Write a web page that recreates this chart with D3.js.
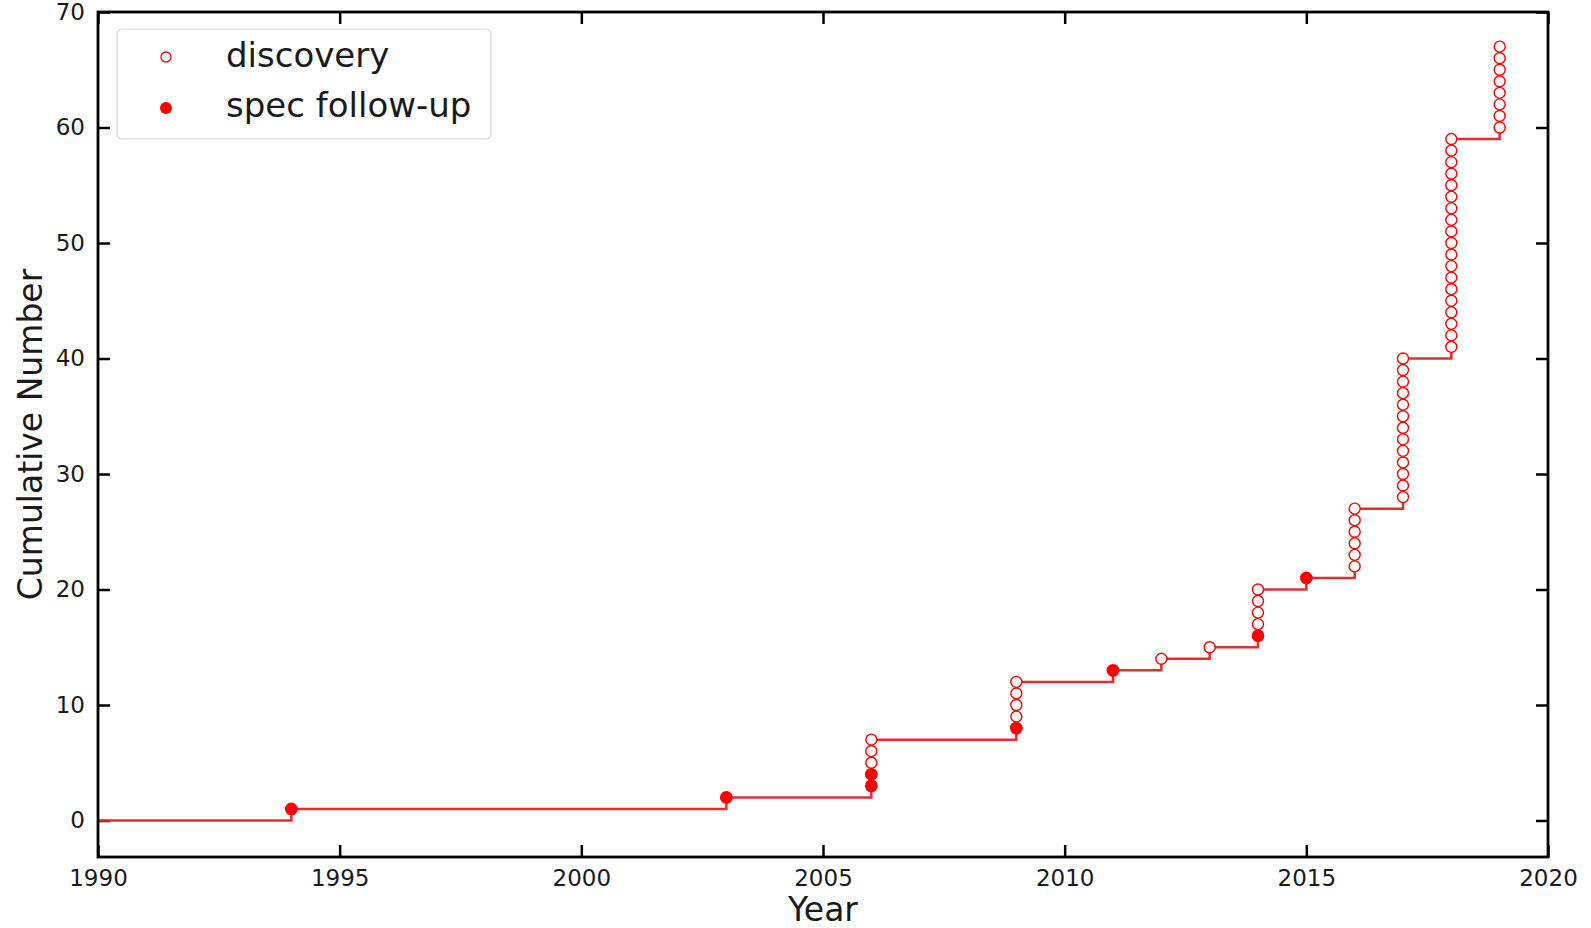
<html>
  <head>
    <meta charset="utf-8">
    <script src="https://d3js.org/d3.v7.min.js"></script>
    <style>
      body { margin: 0; background: #fff; }
      svg { font-family: "DejaVu Sans", sans-serif; }
      .axis path { display: none; }
      .axis line { stroke: #000; stroke-width: 2.5; }
      .axis text { font-family: "DejaVu Sans", sans-serif; font-size: 23px; fill: #1a1a1a; }
    </style>
  </head>
  <body>
    <div id="chart"></div>
    <script>
      // objects per year: spectroscopic follow-up first, then discoveries
      var years = [1994, 2003, 2006, 2009, 2011, 2012, 2013, 2014, 2015, 2016, 2017, 2018, 2019];
      var specCounts = [1, 1, 2, 1, 1, 0, 0, 1, 1, 0, 0, 0, 0];
      var discoveryCounts = [0, 0, 3, 4, 0, 1, 1, 4, 0, 6, 13, 19, 8];
      var xTicks = [1990, 1995, 2000, 2005, 2010, 2015, 2020];
      var yTicks = [0, 10, 20, 30, 40, 50, 60, 70];

      var width = 1591, height = 928;
      var plotLeft = 98, plotRight = 1548, plotTop = 12, plotBottom = 857;
      var lineColor = "#e02f2f";
      var markColor = "#ff0000";

      /* Build points (cumulative number) */
      var points = [];
      var total = 0;
      years.forEach(function(y, i) {
        for (var k = 0; k < specCounts[i]; k++) {
          total += 1;
          points.push({year: y, n: total, type: "spec"});
        }
        for (var k = 0; k < discoveryCounts[i]; k++) {
          total += 1;
          points.push({year: y, n: total, type: "discovery"});
        }
      });
      var linePts = [{year: 1990, n: 0}].concat(points);

      /* Scales */
      var xScale = d3.scaleLinear().domain([1990, 2020]).range([plotLeft, plotRight]);
      var yScale = d3.scaleLinear().domain([-3.16, 70]).range([plotBottom, plotTop]);

      var svg = d3.select("#chart").append("svg")
        .attr("width", width)
        .attr("height", height);

      /* Axes, ticks pointing in on all four sides */
      svg.append("g")
        .attr("class", "x axis")
        .attr("transform", `translate(0, ${plotBottom})`)
        .call(d3.axisBottom(xScale).tickValues(xTicks).tickFormat(d3.format("d"))
          .tickSize(-12).tickPadding(13));

      svg.append("g")
        .attr("class", "x axis")
        .attr("transform", `translate(0, ${plotTop})`)
        .call(d3.axisTop(xScale).tickValues(xTicks).tickFormat("").tickSize(-12));

      svg.append("g")
        .attr("class", "y axis")
        .attr("transform", `translate(${plotLeft}, 0)`)
        .call(d3.axisLeft(yScale).tickValues(yTicks).tickSize(-12).tickPadding(13));

      svg.append("g")
        .attr("class", "y axis")
        .attr("transform", `translate(${plotRight}, 0)`)
        .call(d3.axisRight(yScale).tickValues(yTicks).tickFormat("").tickSize(-12));

      /* Step line */
      var line = d3.line()
        .x(d => xScale(d.year))
        .y(d => yScale(d.n))
        .curve(d3.curveStepAfter);

      svg.append("path")
        .datum(linePts)
        .attr("d", line)
        .attr("fill", "none")
        .attr("stroke", lineColor)
        .attr("stroke-width", 2.5);

      /* Markers */
      svg.append("g")
        .selectAll("circle")
        .data(points).enter()
        .append("circle")
        .attr("cx", d => xScale(d.year))
        .attr("cy", d => yScale(d.n))
        .attr("r", d => d.type == "spec" ? 6.4 : 5.5)
        .attr("fill", d => d.type == "spec" ? markColor : "#fff")
        .attr("stroke", markColor)
        .attr("stroke-width", d => d.type == "spec" ? 0 : 1.4);

      /* Frame */
      svg.append("rect")
        .attr("x", plotLeft).attr("y", plotTop)
        .attr("width", plotRight - plotLeft).attr("height", plotBottom - plotTop)
        .attr("fill", "none")
        .attr("stroke", "#000")
        .attr("stroke-width", 2.8);

      /* Labels */
      svg.append("text")
        .attr("x", (plotLeft + plotRight) / 2)
        .attr("y", 921)
        .attr("text-anchor", "middle")
        .attr("font-size", "33px")
        .attr("fill", "#1a1a1a")
        .text("Year");

      svg.append("text")
        .attr("transform", `translate(42, ${(plotTop + plotBottom) / 2}) rotate(-90)`)
        .attr("text-anchor", "middle")
        .attr("font-size", "33px")
        .attr("fill", "#1a1a1a")
        .text("Cumulative Number");

      /* Legend */
      var legend = svg.append("g");
      legend.append("rect")
        .attr("x", 117).attr("y", 29)
        .attr("width", 374).attr("height", 110)
        .attr("rx", 5)
        .attr("fill", "#fff").attr("fill-opacity", 0.8)
        .attr("stroke", "#d6d6d6").attr("stroke-width", 1.2);

      var legendItems = [
        {label: "discovery", type: "discovery"},
        {label: "spec follow-up", type: "spec"}
      ];
      legendItems.forEach(function(d, i) {
        legend.append("circle")
          .attr("cx", 166)
          .attr("cy", 57 + i * 51)
          .attr("r", d.type == "spec" ? 6 : 5)
          .attr("fill", d.type == "spec" ? markColor : "#fff")
          .attr("stroke", markColor)
          .attr("stroke-width", d.type == "spec" ? 0 : 1.3);
        legend.append("text")
          .attr("x", 226)
          .attr("y", 67 + i * 50)
          .attr("font-size", "34px")
          .attr("fill", "#1a1a1a")
          .text(d.label);
      });
    </script>
  </body>
</html>
